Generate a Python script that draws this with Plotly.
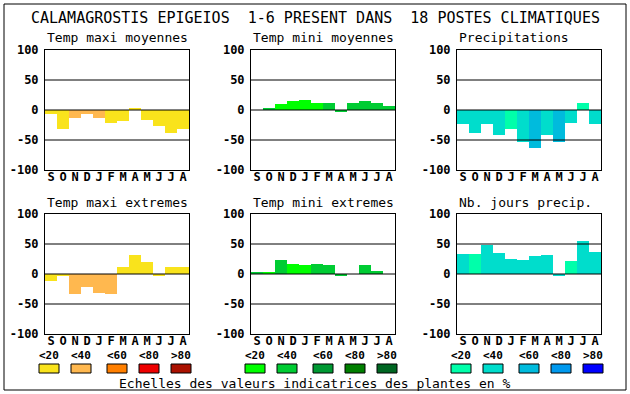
import plotly.graph_objects as go

W, H = 630, 394

months = ["S", "O", "N", "D", "J", "F", "M", "A", "M", "J", "J", "A"]
y_ticks = [-100, -50, 0, 50, 100]
legend_labels = ["<20", "<40", "<60", "<80", ">80"]

titles = ["Temp maxi moyennes", "Temp mini moyennes", "Precipitations",
          "Temp maxi extremes", "Temp mini extremes", "Nb. jours precip."]

temp_maxi_moy = [-6, -31, -14, -6, -13, -21, -18, 3, -16, -26, -38, -31]
temp_maxi_moy_cls = [0, 0, 1, 1, 1, 0, 0, 0, 0, 0, 0, 0]
temp_mini_moy = [0, 2, 10, 15, 17, 12, 12, -3, 12, 15, 12, 7]
temp_mini_moy_cls = [0, 1, 0, 0, 0, 0, 1, 1, 1, 1, 1, 1]
precip = [-24, -38, -24, -41, -31, -53, -63, -41, -53, -21, 12, -24]
precip_cls = [1, 1, 1, 1, 0, 1, 2, 1, 2, 1, 0, 1]
temp_maxi_ext = [-11, -4, -33, -21, -31, -33, 11, 32, 20, -3, 11, 12]
temp_maxi_ext_cls = [0, 0, 1, 1, 1, 1, 0, 0, 0, 0, 0, 0]
temp_mini_ext = [2, 2, 23, 17, 15, 17, 15, -3, 0, 15, 5, 0]
temp_mini_ext_cls = [1, 0, 1, 0, 0, 1, 1, 1, 1, 1, 1, 1]
nb_jours = [33, 33, 49, 35, 25, 23, 30, 32, -4, 22, 55, 37]
nb_jours_cls = [1, 0, 1, 1, 1, 1, 1, 1, 1, 0, 1, 1]

warm = ["#f9e31c", "#ffb84f", "#ff7f00", "#ee0000", "#aa1100"]
green = ["#00ff00", "#00cc33", "#009933", "#007f00", "#006622"]
blue = ["#00ffaa", "#00ddcc", "#00bbdd", "#0099ee", "#0000ff"]

panels = [
    (temp_maxi_moy, temp_maxi_moy_cls, warm),
    (temp_mini_moy, temp_mini_moy_cls, green),
    (precip, precip_cls, blue),
    (temp_maxi_ext, temp_maxi_ext_cls, warm),
    (temp_mini_ext, temp_mini_ext_cls, green),
    (nb_jours, nb_jours_cls, blue),
]

col_x = [(45, 189), (251, 395), (457, 601)]
row_y = [(50, 170), (214, 334)]

def px(x):
    return x / W

def py(y):
    return 1 - y / H

MONO = "DejaVu Sans Mono"
fig = go.Figure()
layout = dict(
    width=W, height=H,
    margin=dict(l=0, r=0, t=0, b=0, pad=0, autoexpand=False),
    paper_bgcolor="white", plot_bgcolor="white", showlegend=False,
    bargap=0,
)
shapes = []
annotations = []

for i, (vals, cls, pal) in enumerate(panels):
    r, c = divmod(i, 3)
    n = i + 1
    xa = "x" if n == 1 else f"x{n}"
    ya = "y" if n == 1 else f"y{n}"
    fig.add_trace(go.Bar(
        x=list(range(len(months))), y=vals,
        marker=dict(color=[pal[k] for k in cls], line=dict(width=0)),
        width=1.0, xaxis=xa, yaxis=ya, hoverinfo="skip",
    ))
    x0, x1 = col_x[c]
    y0, y1 = row_y[r]
    layout[f"xaxis{'' if n == 1 else n}"] = dict(
        domain=[px(x0), px(x1)], anchor=ya, range=[-0.5, 11.5],
        tickvals=list(range(12)), ticktext=months, ticks="",
        showgrid=False, zeroline=False, showline=True, mirror=True,
        linecolor="black", linewidth=1, automargin=False,
        tickfont=dict(family=MONO, size=12, color="black", weight="bold"),
        ticklabelstandoff=-4, fixedrange=True,
    )
    layout[f"yaxis{'' if n == 1 else n}"] = dict(
        domain=[py(y1), py(y0)], anchor=xa, range=[-100, 100],
        tickvals=y_ticks, ticktext=[str(v) for v in y_ticks], ticks="",
        showgrid=False, zeroline=False, showline=True, mirror=True,
        linecolor="black", linewidth=1, automargin=False,
        tickfont=dict(family=MONO, size=12, color="black", weight="bold"),
        ticklabelstandoff=3, fixedrange=True,
    )
    for v in (-50, 0, 50):
        shapes.append(dict(type="line", xref=f"{xa} domain", yref=ya,
                           x0=0, x1=1, y0=v, y1=v,
                           line=dict(color="black", width=1), layer="above"))
    annotations.append(dict(
        text=titles[i], x=px(x0), y=py(y0 - 12), xref="paper", yref="paper",
        xanchor="left", yanchor="middle", showarrow=False,
        font=dict(family=MONO, size=13, color="black"),
    ))

# main title
annotations.append(dict(
    text="CALAMAGROSTIS EPIGEIOS  1-6 PRESENT DANS  18 POSTES CLIMATIQUES",
    x=px(315), y=py(18), xref="paper", yref="paper", xanchor="center",
    yanchor="middle", showarrow=False,
    font=dict(family=MONO, size=15, color="black"),
))

# legend scales
box_starts = [
    [39, 71, 107, 139, 171],
    [245, 277, 313, 345, 377],
    [451, 483, 519, 551, 583],
]
for pal, starts in zip([warm, green, blue], box_starts):
    for k, (col, bx) in enumerate(zip(pal, starts)):
        shapes.append(dict(type="rect", xref="paper", yref="paper",
                           x0=px(bx), x1=px(bx + 20), y0=py(373), y1=py(364),
                           fillcolor=col, line=dict(color="black", width=1)))
        annotations.append(dict(
            text=legend_labels[k], x=px(bx + 10), y=py(355),
            xref="paper", yref="paper", xanchor="center", yanchor="middle",
            showarrow=False,
            font=dict(family=MONO, size=11, color="black", weight="bold"),
        ))

annotations.append(dict(
    text="Echelles des valeurs indicatrices des plantes en %",
    x=px(315), y=py(383), xref="paper", yref="paper", xanchor="center",
    yanchor="middle", showarrow=False,
    font=dict(family=MONO, size=13, color="black"),
))

# outer frame
shapes.append(dict(type="rect", xref="paper", yref="paper",
                   x0=px(4), x1=px(626), y0=py(390), y1=py(4),
                   line=dict(color="black", width=1), fillcolor="rgba(0,0,0,0)"))

layout["shapes"] = shapes
layout["annotations"] = annotations
fig.update_layout(**layout)

page_fix = (
    "document.body.style.margin='0';"
    "document.body.style.overflow='hidden';"
)
fig.write_html(
    "out.html", config={"displayModeBar": False},
    post_script=page_fix,
)
